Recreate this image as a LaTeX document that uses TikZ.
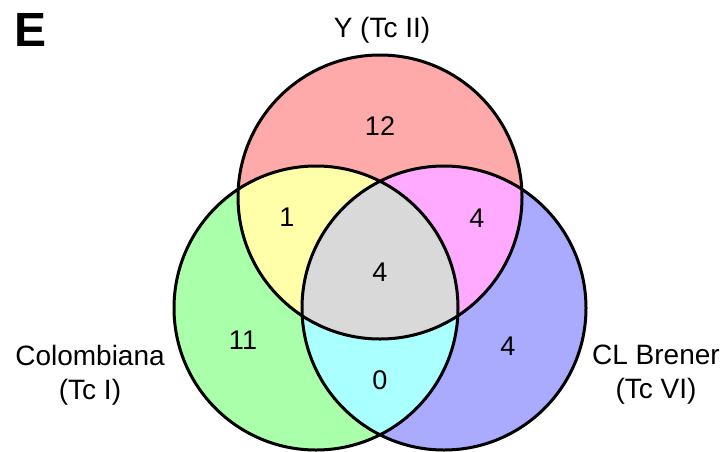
\documentclass[tikz,border=0pt]{standalone}
\usepackage{fontspec}
\setmainfont{Liberation Sans}
\usetikzlibrary{positioning}
\definecolor{setred}{HTML}{FFAAAA}
\definecolor{setgreen}{HTML}{AAFFAA}
\definecolor{setblue}{HTML}{AAAAFF}
\definecolor{setyellow}{HTML}{FFFFAA}
\definecolor{setpink}{HTML}{FFAAFF}
\definecolor{setcyan}{HTML}{AAFFFF}
\definecolor{setgray}{HTML}{D9D9D9}
\newcommand{\radius}{142}
\newcommand{\ring}[1]{ circle[radius=\radius]}
\tikzset{setline/.style={line width=3pt}}
\tikzset{count/.style={font=\fontsize{27}{30}\selectfont, inner sep=0pt}}
\tikzset{setlabel/.style={font=\fontsize{28}{34}\selectfont, align=center, inner sep=0pt}}

\begin{document}
\begin{tikzpicture}[x=1pt, y=-1pt]
  \useasboundingbox (0,0) rectangle (728,451);

  % --- set centres ---
  \coordinate (Yc) at (380,197);
  \coordinate (Col) at (316,308);
  \coordinate (CL) at (444,308);

  % --- single sets ---
  \fill[setred] (Yc) \ring{};
  \fill[setgreen] (Col) \ring{};
  \fill[setblue] (CL) \ring{};

  % --- pairwise overlaps ---
  \begin{scope}
    \clip (Yc) \ring{};
    \fill[setyellow] (Col) \ring{};
  \end{scope}
  \begin{scope}
    \clip (Yc) \ring{};
    \fill[setpink] (CL) \ring{};
  \end{scope}
  \begin{scope}
    \clip (Col) \ring{};
    \fill[setcyan] (CL) \ring{};
  \end{scope}
  \begin{scope}
    \clip (Yc) \ring{};
    \clip (Col) \ring{};
    \fill[setgray] (CL) \ring{};
  \end{scope}

  % --- outlines ---
  \draw[setline] (Yc) \ring{};
  \draw[setline] (Col) \ring{};
  \draw[setline] (CL) \ring{};

  % --- counts ---
  \node[count] (nY) at (380,126) {12};
  \node[count] (nYCol) at (287,217) {1};
  \node[count] (nYCL) at (477,218) {4};
  \node[count] (nAll) at (380,272) {4};
  \node[count] (nCol) at (243,340) {11};
  \node[count] (nCL) at (508,346) {4};
  \node[count] (nColCL) at (380,380) {0};

  % --- labels ---
  \node[font=\fontsize{48}{50}\selectfont\bfseries, inner sep=0pt] (panel) at (31,30) {E};
  \node[setlabel] (lY) at (382,30) {Y (Tc II)};
  \node[setlabel] (lCol) at (90,375) {Colombiana\\(Tc I)};
  \node[setlabel] (lCL) at (656,375) {CL Brener\\(Tc VI)};
\end{tikzpicture}
\end{document}
